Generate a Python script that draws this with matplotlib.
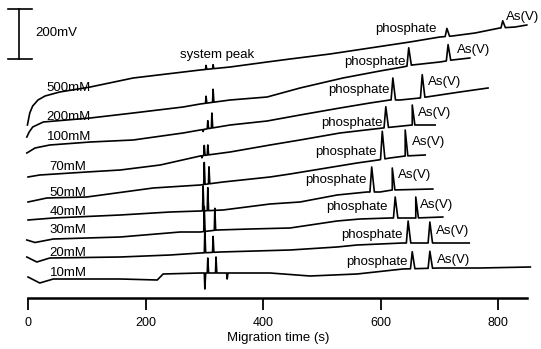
import numpy as np
import matplotlib
matplotlib.use("Agg")
import matplotlib.pyplot as plt

plt.rcParams['font.family'] = ['Liberation Sans', 'DejaVu Sans']

# baseline key points: time (s), signal (mV, stacked)
t500 = [-1, 3, 8, 17, 29, 54, 106, 179, 293, 344, 407, 446, 514, 582, 650, 701, 722, 761, 803, 829, 849]
v500 = [692, 740, 768, 792, 808, 824, 844, 880, 912, 924, 944, 956, 976, 1000, 1024, 1044, 1048, 1060, 1080, 1084, 1092]
t200 = [-2, 2, 8, 26, 106, 179, 264, 293, 344, 407, 463, 536, 599, 638, 654, 701, 722, 752]
v200 = [644, 664, 684, 704, 720, 740, 764, 776, 792, 804, 840, 880, 908, 924, 932, 944, 952, 960]
t100 = [-2, 12, 37, 106, 179, 264, 293, 344, 407, 463, 531, 582, 616, 633, 667, 701, 735, 783]
v100 = [580, 600, 612, 624, 632, 660, 672, 692, 708, 732, 760, 780, 792, 792, 800, 812, 824, 840]
t70 = [0, 20, 100, 157, 225, 293, 344, 412, 463, 531, 604, 654, 693]
v70 = [484, 492, 504, 512, 532, 568, 584, 612, 632, 660, 680, 692, 692]
t50 = [0, 32, 100, 213, 293, 332, 412, 446, 560, 596, 616, 642, 676]
v50 = [384, 400, 404, 440, 452, 464, 484, 496, 540, 552, 560, 568, 572]
t40 = [0, 43, 157, 242, 293, 332, 412, 463, 526, 577, 599, 620, 689]
v40 = [312, 320, 332, 344, 348, 352, 376, 384, 412, 424, 424, 432, 436]
t30 = [-2, 12, 43, 157, 259, 293, 322, 378, 446, 526, 565, 616, 660, 706]
v30 = [232, 222, 236, 244, 264, 264, 272, 276, 280, 308, 316, 320, 320, 324]
t20 = [-2, 15, 37, 157, 242, 293, 327, 446, 526, 560, 638, 701, 751]
v20 = [164, 144, 160, 164, 172, 180, 184, 192, 204, 212, 220, 220, 220]
t10 = [0, 20, 43, 157, 220, 225, 230, 293, 412, 480, 560, 638, 701, 769, 855]
v10 = [84, 60, 76, 76, 72, 84, 96, 100, 100, 88, 96, 116, 120, 120, 124]

# peaks: (time s, height mV above local baseline)
pk500 = [(303, 16), (315, 16), (713, 32), (808, 28)]
pk200 = [(303, 28), (315, 52), (648, 72), (715, 64)]
pk100 = [(298, -8), (306, 32), (313, 60), (621, 88), (671, 92)]
pk70 = [(296, -8), (300, 40), (306, 40), (609, 84), (654, 80)]
pk50 = [(300, 88), (308, 68), (603, 112), (642, 104)]
pk40 = [(298, 100), (306, 92), (585, 100), (620, 88)]
pk30 = [(300, 100), (318, 88), (625, 84), (660, 84)]
pk20 = [(301, 92), (315, 64), (647, 88), (684, 84)]
pk10 = [(301, -64), (306, 60), (320, 64), (339, -24), (654, 68), (684, 68)]

conc = ['500mM', '200mM', '100mM', '70mM', '50mM', '40mM', '30mM', '20mM', '10mM']
conc_x = [32, 32, 32, 37, 37, 37, 37, 37, 37]
conc_y = [840, 724, 644, 524, 420, 344, 272, 180, 100]
phos_x = [696, 642, 616, 604, 594, 577, 613, 638, 647]
phos_y = [1076, 944, 832, 700, 584, 472, 364, 252, 144]
as_x = [813, 730, 681, 664, 654, 630, 667, 694, 696]
as_y = [1124, 992, 864, 740, 624, 492, 372, 268, 152]


def build_trace(t, v, peaks):
    pts = list(zip(t, v))
    for pt, h in peaks:
        if pt < 400:
            wl, wr = 0.9, 1.4
        else:
            wl, wr = 3.0, 4.5
        b = np.interp([pt - wl, pt, pt + wr], t, v)
        pts += [(pt - wl, b[0]), (pt, b[1] + h), (pt + wr, b[2])]
    pts.sort(key=lambda p: p[0])
    return [p[0] for p in pts], [p[1] for p in pts]


def main():
    fig = plt.figure(figsize=(5.41, 3.49), dpi=100)
    ax = fig.add_axes([28 / 541, 51 / 349, 499.4 / 541, 298 / 349])

    traces = [(t500, v500, pk500), (t200, v200, pk200), (t100, v100, pk100),
              (t70, v70, pk70), (t50, v50, pk50), (t40, v40, pk40),
              (t30, v30, pk30), (t20, v20, pk20), (t10, v10, pk10)]
    for i, (t, v, pk) in enumerate(traces):
        x, y = build_trace(t, v, pk)
        ax.plot(x, y, color='black', lw=1.2, clip_on=False, solid_joinstyle='round')
        ax.text(conc_x[i], conc_y[i], conc[i], fontsize=9.5, ha='left', va='center')
        ax.text(phos_x[i], phos_y[i], 'phosphate', fontsize=9.5, ha='right', va='center')
        ax.text(as_x[i], as_y[i], 'As(V)', fontsize=9.5, ha='left', va='center', clip_on=False)

    ax.text(322, 972, 'system peak', fontsize=9.5, ha='center', va='center')

    # 200 mV scale bar
    ax.plot([-15.3, -15.3], [956, 1156], color='black', lw=1.2, clip_on=False)
    ax.plot([-34, 7], [1156, 1156], color='black', lw=1.2, clip_on=False)
    ax.plot([-34, 7], [956, 956], color='black', lw=1.2, clip_on=False)
    ax.text(12, 1060, '200mV', fontsize=9.5, ha='left', va='center')

    ax.set_xlim(0, 850)
    ax.set_ylim(0, 1192)
    for s in ['left', 'top', 'right']:
        ax.spines[s].set_visible(False)
    ax.spines['bottom'].set_linewidth(1.8)
    ax.set_yticks([])
    ax.set_xticks([0, 200, 400, 600, 800])
    ax.tick_params(axis='x', direction='out', length=8.6, width=1.3, labelsize=9, pad=5)
    ax.set_xlabel('Migration time (s)', fontsize=9.5, labelpad=2)

    fig.savefig('out.png', dpi=100)


if __name__ == "__main__":
    main()
